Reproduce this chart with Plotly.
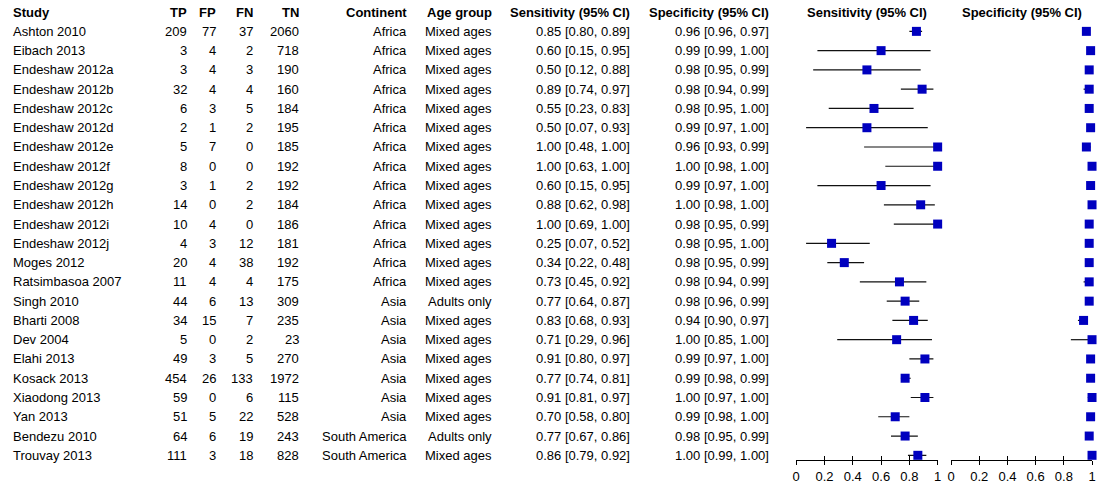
import plotly.graph_objects as go

# ---------------- data ----------------
studies = ["Ashton 2010", "Eibach 2013", "Endeshaw 2012a", "Endeshaw 2012b", "Endeshaw 2012c",
           "Endeshaw 2012d", "Endeshaw 2012e", "Endeshaw 2012f", "Endeshaw 2012g", "Endeshaw 2012h",
           "Endeshaw 2012i", "Endeshaw 2012j", "Moges 2012", "Ratsimbasoa 2007", "Singh 2010",
           "Bharti 2008", "Dev 2004", "Elahi 2013", "Kosack 2013", "Xiaodong 2013", "Yan 2013",
           "Bendezu 2010", "Trouvay 2013"]
tp = [209, 3, 3, 32, 6, 2, 5, 8, 3, 14, 10, 4, 20, 11, 44, 34, 5, 49, 454, 59, 51, 64, 111]
fp = [77, 4, 4, 4, 3, 1, 7, 0, 1, 0, 4, 3, 4, 4, 6, 15, 0, 3, 26, 0, 5, 6, 3]
fn = [37, 2, 3, 4, 5, 2, 0, 0, 2, 2, 0, 12, 38, 4, 13, 7, 2, 5, 133, 6, 22, 19, 18]
tn = [2060, 718, 190, 160, 184, 195, 185, 192, 192, 184, 186, 181, 192, 175, 309, 235, 23, 270,
      1972, 115, 528, 243, 828]
continent = ["Africa"] * 14 + ["Asia"] * 7 + ["South America"] * 2
age_group = ["Mixed ages"] * 14 + ["Adults only"] + ["Mixed ages"] * 6 + ["Adults only", "Mixed ages"]
sens = [0.85, 0.60, 0.50, 0.89, 0.55, 0.50, 1.00, 1.00, 0.60, 0.88, 1.00, 0.25, 0.34, 0.73, 0.77,
        0.83, 0.71, 0.91, 0.77, 0.91, 0.70, 0.77, 0.86]
sens_lo = [0.80, 0.15, 0.12, 0.74, 0.23, 0.07, 0.48, 0.63, 0.15, 0.62, 0.69, 0.07, 0.22, 0.45, 0.64,
           0.68, 0.29, 0.80, 0.74, 0.81, 0.58, 0.67, 0.79]
sens_hi = [0.89, 0.95, 0.88, 0.97, 0.83, 0.93, 1.00, 1.00, 0.95, 0.98, 1.00, 0.52, 0.48, 0.92, 0.87,
           0.93, 0.96, 0.97, 0.81, 0.97, 0.80, 0.86, 0.92]
spec = [0.96, 0.99, 0.98, 0.98, 0.98, 0.99, 0.96, 1.00, 0.99, 1.00, 0.98, 0.98, 0.98, 0.98, 0.98,
        0.94, 1.00, 0.99, 0.99, 1.00, 0.99, 0.98, 1.00]
spec_lo = [0.96, 0.99, 0.95, 0.94, 0.95, 0.97, 0.93, 0.98, 0.97, 0.98, 0.95, 0.95, 0.95, 0.94, 0.96,
           0.90, 0.85, 0.97, 0.98, 0.97, 0.98, 0.95, 0.99]
spec_hi = [0.97, 1.00, 0.99, 0.99, 1.00, 1.00, 0.99, 1.00, 1.00, 1.00, 0.99, 1.00, 0.99, 0.99, 0.99,
           0.97, 1.00, 1.00, 0.99, 1.00, 1.00, 0.99, 1.00]
tick_vals = [0, 0.2, 0.4, 0.6, 0.8, 1]

# ---------------- layout helpers ----------------
W, H = 1099, 484
ROW0, STEP = 31.5, 19.35
AXIS_PX = 462.0
FONT = "Liberation Sans, Arial, sans-serif"
BLUE = "#0000BF"

def px2paper_x(px):
    return px / W

n = len(studies)
rows = [-i for i in range(n)]
y_bottom = -(AXIS_PX - ROW0) / STEP
y_top = ROW0 / STEP
header_y = (ROW0 - 13.0) / STEP

fig = go.Figure()

# forest plot traces
fig.add_trace(go.Scatter(
    x=sens, y=rows, mode="markers", xaxis="x", yaxis="y", cliponaxis=False,
    marker=dict(symbol="square", size=9, color=BLUE, line=dict(width=0)),
    error_x=dict(type="data", symmetric=False,
                 array=[h - s for h, s in zip(sens_hi, sens)],
                 arrayminus=[s - l for s, l in zip(sens, sens_lo)],
                 color="#111111", thickness=1.2, width=0),
    showlegend=False, hoverinfo="skip"))
fig.add_trace(go.Scatter(
    x=spec, y=rows, mode="markers", xaxis="x2", yaxis="y", cliponaxis=False,
    marker=dict(symbol="square", size=9, color=BLUE, line=dict(width=0)),
    error_x=dict(type="data", symmetric=False,
                 array=[h - s for h, s in zip(spec_hi, spec)],
                 arrayminus=[s - l for s, l in zip(spec, spec_lo)],
                 color="#111111", thickness=1.2, width=0),
    showlegend=False, hoverinfo="skip"))
# invisible traces for the overlay (inside-tick) axes
fig.add_trace(go.Scatter(x=[0.5], y=[0], xaxis="x3", yaxis="y", mode="markers",
                         marker=dict(opacity=0), showlegend=False, hoverinfo="skip"))
fig.add_trace(go.Scatter(x=[0.5], y=[0], xaxis="x4", yaxis="y", mode="markers",
                         marker=dict(opacity=0), showlegend=False, hoverinfo="skip"))

sens_dom = [px2paper_x(798.0), px2paper_x(940.5)]
spec_dom = [px2paper_x(954.0), px2paper_x(1096.0)]

axis_common = dict(range=[0, 1], showgrid=False, zeroline=False, showline=True,
                   linecolor="black", linewidth=1, tickvals=tick_vals,
                   tickcolor="black", tickwidth=1, anchor="y",
                   tickfont=dict(family=FONT, size=13, color="black"), fixedrange=True)

fig.update_layout(
    width=W, height=H, margin=dict(l=0, r=0, t=0, b=0),
    paper_bgcolor="white", plot_bgcolor="white",
    font=dict(family=FONT, size=13, color="black"),
    xaxis=dict(domain=sens_dom, ticks="outside", ticklen=4, **axis_common),
    xaxis2=dict(domain=spec_dom, ticks="outside", ticklen=4, **axis_common),
    xaxis3=dict(domain=sens_dom, overlaying="x", ticks="inside", ticklen=4,
                showticklabels=False, **axis_common),
    xaxis4=dict(domain=spec_dom, overlaying="x2", ticks="inside", ticklen=4,
                showticklabels=False, **axis_common),
    yaxis=dict(domain=[(H - AXIS_PX) / H, 1], range=[y_bottom, y_top], visible=False,
               fixedrange=True),
)

# ---------------- table text ----------------
def fmt_ci(v, lo, hi):
    return f"{v:.2f} [{lo:.2f}, {hi:.2f}]"

columns = [
    ("Study", 9, "left", studies),
    ("TP", 184, "right", [str(v) for v in tp]),
    ("FP", 214, "right", [str(v) for v in fp]),
    ("FN", 251, "right", [str(v) for v in fn]),
    ("TN", 297, "right", [str(v) for v in tn]),
    ("Continent", 406, "right", continent),
    ("Age group", 492, "right", age_group),
    ("Sensitivity (95% CI)", 630.5, "right",
     [fmt_ci(a, b, c) for a, b, c in zip(sens, sens_lo, sens_hi)]),
    ("Specificity (95% CI)", 770.5, "right",
     [fmt_ci(a, b, c) for a, b, c in zip(spec, spec_lo, spec_hi)]),
]

def note(x, y, text, anchor):
    return dict(x=x, xref="paper", y=y, yref="y", text=text, showarrow=False,
                xanchor=anchor, yanchor="middle", borderpad=0, borderwidth=0,
                font=dict(family=FONT, size=13, color="black"))

annotations = []
for title, xpx, anchor, vals in columns:
    annotations.append(note(px2paper_x(xpx), header_y, f"<b>{title}</b>", anchor))
    for r, v in zip(rows, vals):
        annotations.append(note(px2paper_x(xpx), r, v, anchor))

# forest headers centred over their axes
for title, dom in [("Sensitivity (95% CI)", sens_dom), ("Specificity (95% CI)", spec_dom)]:
    annotations.append(note((dom[0] + dom[1]) / 2, header_y, f"<b>{title}</b>", "center"))

fig.update_layout(annotations=annotations)

fig.write_html("out.html", config={"displayModeBar": False},
               post_script="document.body.style.margin='0';document.body.style.padding='0';"
                           "document.body.style.overflow='hidden';")
